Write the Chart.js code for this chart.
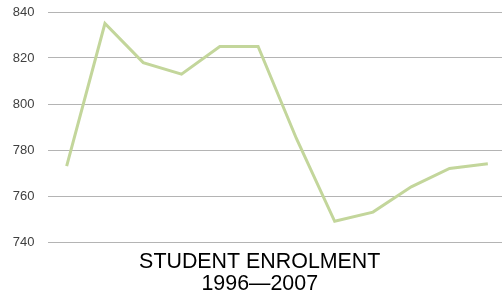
<!DOCTYPE html>
<html>
<head>
<meta charset="utf-8">
<script src="https://cdn.jsdelivr.net/npm/chart.js@4/dist/chart.umd.min.js"></script>
<style>
html,body{margin:0;padding:0;background:#fff;overflow:hidden;}
#wrap{width:502px;height:295px;position:relative;}
</style>
</head>
<body>
<div id="wrap"><canvas id="c" width="502" height="295"></canvas></div>
<script>
const years = [1996,1997,1998,1999,2000,2001,2002,2003,2004,2005,2006,2007];
const enrolment = [773,835,818,813,825,825,785,749,753,764,772,774];
const yTicks = [740,760,780,800,820,840];
const titleLines = ['STUDENT ENROLMENT','1996\u20142007'];

const bottomTitle = {
  id: 'bottomTitle',
  afterDraw(chart) {
    const ctx = chart.ctx;
    const a = chart.chartArea;
    ctx.save();
    ctx.fillStyle = '#000';
    ctx.font = '21.4px "Liberation Sans"';
    ctx.textAlign = 'center';
    ctx.textBaseline = 'alphabetic';
    const cx = (a.left + a.right) / 2 - 15;
    titleLines.forEach((t, i) => ctx.fillText(t, cx, a.bottom + 26 + i * 22));
    ctx.restore();
  }
};

new Chart(document.getElementById('c'), {
  type: 'line',
  data: {
    datasets: [{
      data: years.map((y,i)=>({x:y, y:enrolment[i]})),
      borderColor: '#c3d69b',
      borderWidth: 3,
      pointRadius: 0,
      pointHoverRadius: 0,
      tension: 0,
      fill: false,
      clip: false
    }]
  },
  plugins: [bottomTitle],
  options: {
    responsive: false,
    animation: false,
    layout: { autoPadding: false, padding: { top: 12, left: 0, right: 0, bottom: 53 } },
    plugins: {
      legend: { display: false },
      tooltip: { enabled: false },
      title: { display: false }
    },
    scales: {
      x: {
        type: 'linear',
        min: 1995.5,
        max: 2007.37,
        display: false
      },
      y: {
        min: 740,
        max: 840,
        afterBuildTicks: (ax) => { ax.ticks = yTicks.map(v=>({value:v})); },
        afterFit: (ax) => { ax.width = 47.5; ax.paddingTop = 0; ax.paddingBottom = 0; },
        border: { display: false },
        grid: { color: '#b4b4b4', lineWidth: 1, drawTicks: false },
        ticks: {
          color: '#404040',
          padding: 13,
          font: { family: 'Liberation Sans', size: 13 }
        }
      }
    }
  }
});
</script>
</body>
</html>
